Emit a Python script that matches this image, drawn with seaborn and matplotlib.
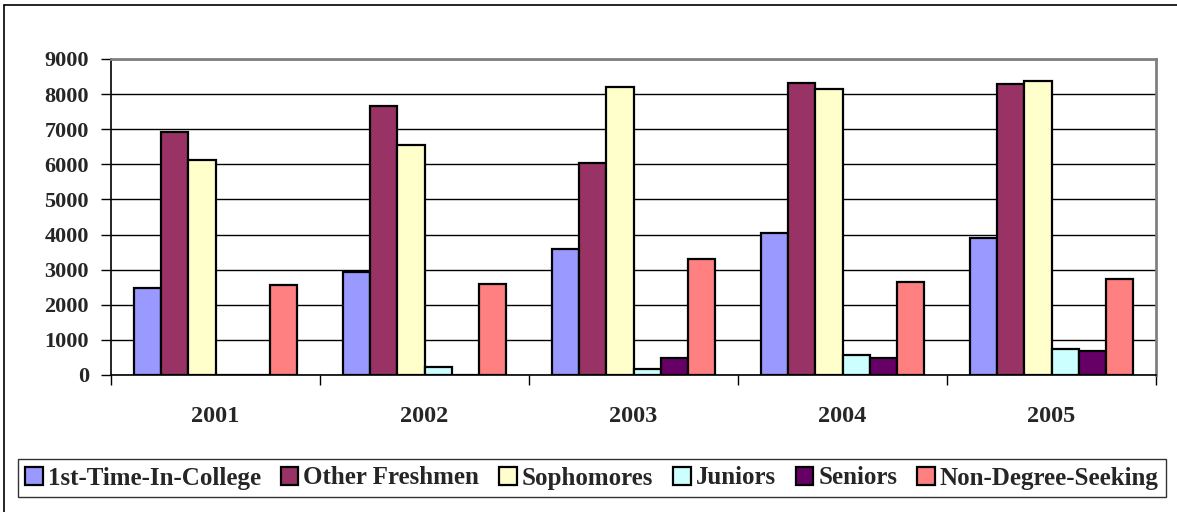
import pandas as pd
import matplotlib.pyplot as plt
import seaborn as sns
from matplotlib.lines import Line2D

# 資料
years = ['2001', '2002', '2003', '2004', '2005']
groups = ['1st-Time-In-College', 'Other Freshmen', 'Sophomores',
          'Juniors', 'Seniors', 'Non-Degree-Seeking']
first_time = [2490, 2920, 3580, 4040, 3900]
other_fresh = [6930, 7670, 6030, 8330, 8300]
sophomores = [6130, 6550, 8190, 8150, 8380]
juniors = [0, 240, 160, 560, 740]
seniors = [0, 0, 480, 480, 690]
non_degree = [2570, 2600, 3310, 2640, 2730]
colors = ['#9999FF', '#993366', '#FFFFCC', '#CCFFFF', '#660066', '#FF8080']

series = [first_time, other_fresh, sophomores, juniors, seniors, non_degree]
rows = []
for g, vals in zip(groups, series):
    for y, v in zip(years, vals):
        rows.append({'year': y, 'group': g, 'count': v})
df = pd.DataFrame(rows)

sns.set_style("white")
plt.rcParams['font.family'] = ['Liberation Serif', 'DejaVu Serif']
plt.rcParams['font.weight'] = 'bold'

fig = plt.figure(figsize=(11.77, 5.12), dpi=100)
ax = fig.add_axes([111 / 1177, 137 / 512, 1045 / 1177, 316 / 512])

sns.barplot(data=df, x='year', y='count', hue='group', hue_order=groups,
            palette=colors, width=0.78, gap=0, edgecolor='black',
            linewidth=1.6, saturation=1, ax=ax, legend=True)

# 軸設定
ax.set_xlim(-0.5, 4.5)
ax.set_ylim(0, 9000)
ax.set_yticks(range(0, 9001, 1000))
ax.yaxis.grid(True, color='black', linewidth=1)
ax.set_axisbelow(True)
ax.set_xlabel('')
ax.set_ylabel('')
ax.tick_params(axis='y', direction='out', length=7, width=1, color='black',
               labelsize=16, pad=9, left=True)
ax.tick_params(axis='x', which='major', length=0, labelsize=17.5, pad=22)
ax.set_xticks([i + 0.5 for i in range(-1, 5)], minor=True)
ax.tick_params(axis='x', which='minor', direction='out', length=7,
               width=1, color='black', bottom=True)
for lab in ax.get_xticklabels() + ax.get_yticklabels():
    lab.set_fontweight('bold')

for side in ['left', 'bottom']:
    ax.spines[side].set_color('black')
    ax.spines[side].set_linewidth(1.2)
for side in ['top', 'right']:
    ax.spines[side].set_color('#808080')
    ax.spines[side].set_linewidth(2)

# 圖例
handles, labels = ax.get_legend_handles_labels()
ax.legend_.remove()
leg = fig.legend(handles, labels, loc='center', ncol=6,
                 bbox_to_anchor=(592 / 1177, 1 - 478 / 512),
                 frameon=True, fancybox=False, edgecolor='black',
                 prop={'weight': 'bold', 'size': 18},
                 handlelength=0.7, handleheight=0.7, handletextpad=0.2,
                 columnspacing=0.8, borderpad=0.3, borderaxespad=0)
leg.get_frame().set_linewidth(1)

# 外框 (左、上)
fig.add_artist(Line2D([4 / 1177, 4 / 1177], [0, 1 - 5 / 512],
                      transform=fig.transFigure, color='black', linewidth=1.2))
fig.add_artist(Line2D([4 / 1177, 1], [1 - 5 / 512, 1 - 5 / 512],
                      transform=fig.transFigure, color='black', linewidth=1.2))

fig.savefig('out.png', dpi=100)
